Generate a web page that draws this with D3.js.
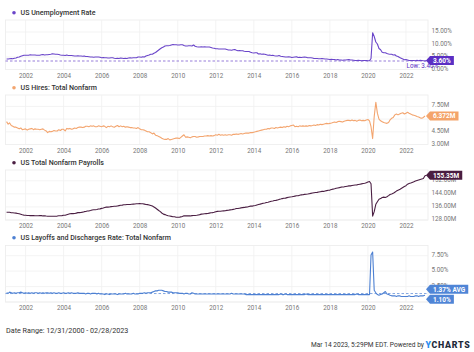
<!DOCTYPE html>
<html><head><meta charset="utf-8">
<script src="https://cdn.jsdelivr.net/npm/d3@7"></script>
<style>
body{margin:0;background:#fff}
svg{display:block;font-family:Roboto,"Noto Sans",sans-serif}
</style>
</head><body>
<svg id="c" width="474" height="352"></svg>
<script>
// ---------- DATA (monthly) ----------
const unemploymentStart = "2001-01-01";
const unemployment = [
4.2,4.2,4.3,4.4,4.3,4.5,4.6,4.9,5.0,5.3,5.5,5.7,
5.7,5.7,5.7,5.9,5.8,5.8,5.8,5.7,5.7,5.7,5.9,6.0,
5.8,5.9,5.9,6.0,6.1,6.3,6.2,6.1,6.1,6.0,5.8,5.7,
5.7,5.6,5.8,5.6,5.6,5.6,5.5,5.4,5.4,5.5,5.4,5.4,
5.3,5.4,5.2,5.2,5.1,5.0,5.0,4.9,5.0,5.0,5.0,4.9,
4.7,4.8,4.7,4.7,4.6,4.6,4.7,4.7,4.5,4.4,4.5,4.4,
4.6,4.5,4.4,4.5,4.4,4.6,4.7,4.6,4.7,4.7,4.7,5.0,
5.0,4.9,5.1,5.0,5.4,5.6,5.8,6.1,6.1,6.5,6.8,7.3,
7.8,8.3,8.7,9.0,9.4,9.5,9.5,9.6,9.8,10.0,9.9,9.9,
9.8,9.8,9.9,9.9,9.6,9.4,9.4,9.5,9.5,9.4,9.8,9.3,
9.1,9.0,9.0,9.1,9.0,9.1,9.0,9.0,9.0,8.8,8.6,8.5,
8.3,8.3,8.2,8.2,8.2,8.2,8.2,8.0,7.8,7.8,7.7,7.9,
8.0,7.7,7.5,7.6,7.5,7.5,7.3,7.2,7.2,7.2,6.9,6.7,
6.6,6.7,6.7,6.2,6.3,6.1,6.2,6.1,5.9,5.7,5.8,5.6,
5.7,5.5,5.4,5.4,5.6,5.3,5.2,5.1,5.0,5.0,5.1,5.0,
4.8,4.9,5.0,5.1,4.8,4.9,4.8,4.9,5.0,4.9,4.7,4.7,
4.7,4.6,4.4,4.4,4.4,4.3,4.3,4.4,4.3,4.2,4.2,4.1,
4.0,4.1,4.0,4.0,3.8,4.0,3.8,3.8,3.7,3.8,3.8,3.9,
4.0,3.8,3.8,3.7,3.6,3.6,3.7,3.6,3.5,3.6,3.6,3.6,
3.5,3.5,4.4,14.7,13.2,11.0,10.2,8.4,7.9,6.9,6.7,6.7,
6.4,6.2,6.1,6.1,5.8,5.9,5.4,5.2,4.8,4.5,4.2,3.9,
4.0,3.8,3.6,3.6,3.6,3.6,3.5,3.7,3.5,3.7,3.6,3.5,
3.4,3.6];
const unemploymentLow = 3.4;

const hiresStart = "2001-01-01";
const hires = [
5.70,5.40,5.55,5.25,5.15,5.05,5.05,4.95,4.85,4.95,4.75,4.80,
4.85,4.70,4.80,4.85,4.90,4.75,4.85,4.80,4.80,4.75,4.80,4.85,
4.70,4.60,4.40,4.55,4.50,4.55,4.65,4.60,4.60,4.75,4.65,4.80,
4.80,4.60,4.90,4.85,4.90,4.80,4.85,4.95,4.90,5.00,5.05,5.05,
5.00,5.05,5.15,5.15,5.10,5.20,5.15,5.20,5.10,5.10,5.20,5.15,
5.10,5.20,5.15,5.00,5.15,5.10,5.20,5.10,5.05,5.15,5.25,5.10,
5.20,5.10,5.15,5.05,5.10,5.05,5.00,5.00,4.95,4.95,4.90,5.00,
4.85,4.75,4.75,4.70,4.60,4.50,4.50,4.40,4.25,4.35,4.10,4.05,
3.95,3.85,3.75,3.65,3.60,3.60,3.70,3.55,3.60,3.65,3.70,3.75,
3.75,3.70,3.85,4.00,4.15,3.85,3.90,3.85,3.80,3.90,3.95,3.95,
3.85,3.90,3.95,3.95,3.95,4.00,4.00,4.05,4.00,4.05,4.00,4.05,
4.15,4.10,4.20,4.10,4.15,4.10,4.15,4.10,4.15,4.15,4.10,4.20,
4.20,4.25,4.20,4.25,4.30,4.25,4.30,4.35,4.35,4.35,4.40,4.40,
4.45,4.50,4.55,4.60,4.65,4.70,4.75,4.80,4.80,4.90,4.85,4.95,
4.95,4.90,5.00,4.95,5.00,5.05,5.00,5.10,5.05,5.15,5.10,5.20,
5.25,5.30,5.10,5.15,5.10,5.20,5.15,5.20,5.15,5.20,5.15,5.25,
5.20,5.25,5.30,5.25,5.35,5.30,5.40,5.35,5.40,5.45,5.50,5.45,
5.50,5.55,5.60,5.65,5.60,5.70,5.75,5.70,5.65,5.75,5.80,5.85,
5.85,5.80,5.90,5.80,5.85,5.75,5.85,5.90,5.80,5.85,5.80,5.90,
5.95,5.80,5.10,3.70,6.30,8.00,6.70,6.00,5.80,5.70,5.60,5.55,
5.50,5.60,5.90,6.10,6.20,6.50,6.60,6.50,6.60,6.70,6.75,6.60,
6.70,6.80,6.70,6.60,6.50,6.45,6.40,6.30,6.25,6.15,6.10,6.20,
6.372];

const payrollsStart = "2001-01-01";
const payrolls = [
132.7,132.7,132.7,132.4,132.4,132.3,132.2,132.0,131.8,131.5,131.2,131.0,
130.9,130.8,130.8,130.7,130.7,130.7,130.6,130.6,130.6,130.7,130.7,130.5,
130.6,130.4,130.3,130.3,130.3,130.3,130.3,130.3,130.4,130.6,130.6,130.7,
130.9,130.9,131.2,131.5,131.8,131.9,131.9,132.0,132.2,132.5,132.5,132.6,
132.8,133.1,133.2,133.5,133.6,133.8,134.1,134.3,134.3,134.4,134.7,134.8,
135.1,135.4,135.7,135.9,135.9,136.0,136.2,136.3,136.4,136.4,136.6,136.8,
137.0,137.1,137.3,137.3,137.5,137.5,137.5,137.6,137.7,137.8,137.9,137.9,
138.0,137.9,137.9,137.7,137.5,137.4,137.2,136.9,136.5,136.0,135.3,134.6,
133.8,133.1,132.3,131.6,131.3,130.9,130.6,130.4,130.2,130.0,130.0,129.7,
129.7,129.7,129.9,130.1,130.6,130.5,130.5,130.5,130.5,130.7,130.8,130.8,
130.9,131.1,131.3,131.6,131.7,131.8,131.9,132.0,132.2,132.4,132.5,132.7,
133.1,133.3,133.4,133.4,133.5,133.6,133.7,133.9,134.0,134.2,134.3,134.5,
134.7,135.0,135.0,135.2,135.4,135.6,135.7,135.9,136.0,136.3,136.5,136.5,
136.7,136.9,137.2,137.5,137.7,138.0,138.2,138.4,138.7,138.9,139.2,139.5,
139.6,139.9,140.0,140.3,140.6,140.8,141.1,141.3,141.4,141.7,141.9,142.1,
142.2,142.4,142.6,142.8,142.8,143.1,143.4,143.5,143.7,143.8,143.9,144.1,
144.3,144.5,144.7,144.8,144.9,145.1,145.3,145.5,145.5,145.8,146.0,146.2,
146.3,146.7,146.9,147.1,147.4,147.6,147.8,148.1,148.2,148.3,148.5,148.7,
148.9,148.9,149.1,149.3,149.4,149.5,149.7,149.9,150.1,150.3,150.5,150.8,
151.3,151.6,150.2,130.4,133.1,137.6,139.2,140.7,141.1,141.8,142.0,141.8,
142.2,142.9,143.6,143.9,144.3,145.0,145.7,146.2,146.6,147.3,147.9,148.5,
149.0,149.9,150.3,150.6,151.0,151.4,151.9,152.2,152.5,152.8,153.1,153.4,
155.07,155.35];

const layoffsStart = "2001-01-01";
const layoffs = [
1.5,1.4,1.6,1.5,1.4,1.5,1.4,1.5,1.5,1.6,1.5,1.4,
1.5,1.4,1.5,1.4,1.5,1.4,1.5,1.5,1.4,1.5,1.4,1.5,
1.4,1.5,1.5,1.4,1.5,1.4,1.5,1.4,1.4,1.5,1.4,1.4,
1.5,1.4,1.4,1.5,1.4,1.5,1.4,1.4,1.4,1.5,1.4,1.4,
1.4,1.4,1.3,1.4,1.4,1.3,1.4,1.4,1.4,1.3,1.4,1.3,
1.3,1.3,1.2,1.3,1.3,1.2,1.3,1.3,1.3,1.3,1.2,1.3,
1.3,1.3,1.3,1.4,1.3,1.3,1.3,1.3,1.4,1.3,1.3,1.3,
1.4,1.4,1.4,1.5,1.4,1.5,1.5,1.5,1.6,1.7,1.8,1.8,
1.9,1.9,1.9,1.8,1.7,1.7,1.6,1.6,1.6,1.5,1.5,1.5,
1.5,1.4,1.4,1.4,1.3,1.4,1.4,1.3,1.3,1.5,1.4,1.3,
1.3,1.3,1.3,1.3,1.3,1.3,1.3,1.3,1.3,1.3,1.3,1.3,
1.3,1.3,1.3,1.3,1.3,1.3,1.3,1.3,1.3,1.3,1.4,1.3,
1.3,1.3,1.3,1.3,1.3,1.3,1.3,1.2,1.2,1.2,1.2,1.2,
1.2,1.2,1.2,1.2,1.2,1.2,1.2,1.2,1.2,1.2,1.2,1.2,
1.2,1.2,1.2,1.2,1.2,1.3,1.2,1.2,1.3,1.2,1.2,1.2,
1.2,1.2,1.2,1.2,1.2,1.2,1.2,1.2,1.2,1.3,1.2,1.2,
1.2,1.2,1.2,1.2,1.2,1.2,1.2,1.2,1.2,1.2,1.2,1.2,
1.2,1.2,1.2,1.2,1.2,1.2,1.2,1.2,1.2,1.2,1.2,1.2,
1.2,1.2,1.2,1.2,1.2,1.3,1.2,1.2,1.2,1.2,1.2,1.2,
1.2,1.2,7.6,8.1,1.9,1.5,1.2,1.1,1.2,1.3,1.5,1.7,
1.3,1.2,1.1,1.0,1.0,1.0,0.9,1.0,1.0,0.9,0.9,0.9,
0.9,0.9,1.0,0.9,0.9,0.9,1.0,1.0,0.9,1.0,1.0,1.0,
1.10];
const layoffsAvg = 1.37;

const xTickYears = [2002,2004,2006,2008,2010,2012,2014,2016,2018,2020,2022];
const unemploymentTicks = [0,5,10,15];
const hiresTicks = [3,4.5,6,7.5];
const payrollsTicks = [128,136,144,152];
const layoffsTicks = [0,2.5,5,7.5];
const dateRange = ["2000-12-31","2023-02-28"];

// ---------- CHART ----------
const svg = d3.select("#c");
const parse = d3.timeParse("%Y-%m-%d");
const x = d3.scaleTime().domain(dateRange.map(parse)).range([6.5, 428]);
const PX0 = 5.5, PX1 = 428;

function series(vals, start){
  const s = parse(start);
  return vals.map((v,i)=>({date:d3.timeMonth.offset(s,i), v}));
}

function callout(g, cx, cy, text, bg){
  const grp = g.append("g");
  const t = grp.append("text").attr("x", cx+3).attr("y", cy).attr("dy","0.35em")
    .attr("fill","#fff").attr("font-size",6.5).attr("font-weight",700).text(text);
  const w = t.node().getComputedTextLength() + 6;
  grp.insert("path","text")
    .attr("d", `M${cx-4},${cy} L${cx},${cy-4.5} L${cx+w},${cy-4.5} L${cx+w},${cy+4.5} L${cx},${cy+4.5} Z`)
    .attr("fill", bg);
  return grp;
}

const panels = [
  {title:"US Unemployment Rate", color:"#6a45c9", labelBg:"#5b2fc4",
   data:series(unemployment, unemploymentStart), titleY:12.7, top:20, bottom:69.5,
   domain:[0,19.8], ticks:unemploymentTicks, fmt:d=>d3.format(".2f")(d)+"%",
   last:d3.format(".2f")(unemployment[unemployment.length-1])+"%",
   ref:unemploymentLow},
  {title:"US Hires: Total Nonfarm", color:"#f3a56f", labelBg:"#f4a46a",
   data:series(hires, hiresStart), titleY:87.7, top:95, bottom:144.5,
   domain:[3,8.85], ticks:hiresTicks, fmt:d=>d3.format(".2f")(d)+"M",
   last:d3.format(".3f")(hires[hires.length-1])+"M"},
  {title:"US Total Nonfarm Payrolls", color:"#4b1f43", labelBg:"#4a1d41",
   data:series(payrolls, payrollsStart), titleY:162.7, top:170, bottom:220,
   domain:[128,158.6], ticks:payrollsTicks, fmt:d=>d3.format(".2f")(d)+"M",
   last:d3.format(".2f")(payrolls[payrolls.length-1])+"M"},
  {title:"US Layoffs and Discharges Rate: Total Nonfarm", color:"#4d80d2", labelBg:"#4f85d6",
   data:series(layoffs, layoffsStart), titleY:237.7, top:245.5, bottom:302,
   domain:[0,9.15], ticks:layoffsTicks, fmt:d=>d3.format(".2f")(d)+"%",
   last:d3.format(".2f")(layoffs[layoffs.length-1])+"%", avg:layoffsAvg}
];

panels.forEach(p=>{
  const g = svg.append("g");
  const y = d3.scaleLinear().domain(p.domain).range([p.bottom, p.top]);

  // title with dot
  g.append("circle").attr("cx",14).attr("cy",p.titleY).attr("r",1.8).attr("fill",p.color);
  g.append("text").attr("x",20.5).attr("y",p.titleY).attr("dy","0.35em")
    .attr("font-size",7.1).attr("font-weight",500).attr("fill","#333").text(p.title);

  // plot frame
  g.append("rect").attr("x",PX0).attr("y",p.top).attr("width",PX1-PX0).attr("height",p.bottom-p.top)
    .attr("fill","#fff").attr("stroke","#ececec").attr("stroke-width",0.8);

  // vertical grid
  const yrs = xTickYears.map(yy=>new Date(yy,0,1));
  g.selectAll(".vg").data(yrs).enter().append("line")
    .attr("x1",d=>x(d)).attr("x2",d=>x(d)).attr("y1",p.top).attr("y2",p.bottom)
    .attr("stroke","#f0f0f0").attr("stroke-width",0.8);
  // horizontal grid
  g.selectAll(".hg").data(p.ticks).enter().append("line")
    .attr("x1",PX0).attr("x2",PX1).attr("y1",d=>y(d)).attr("y2",d=>y(d))
    .attr("stroke","#f0f0f0").attr("stroke-width",0.8);

  // x axis labels
  const xa = d3.axisBottom(x).tickValues(yrs).tickFormat(d3.timeFormat("%Y")).tickSize(0).tickPadding(0);
  const xg = g.append("g").attr("transform",`translate(0,${p.bottom+4})`).call(xa);
  xg.select(".domain").remove();
  xg.selectAll("text").attr("font-size",6.3).attr("fill","#777").attr("font-family","Roboto");

  // y axis labels
  const ya = d3.axisRight(y).tickValues(p.ticks).tickFormat(p.fmt).tickSize(0).tickPadding(0);
  const yg = g.append("g").attr("transform",`translate(${PX1+3.5},-1.5)`).call(ya);
  yg.select(".domain").remove();
  yg.selectAll("text").attr("font-size",6.3).attr("fill","#777").attr("font-family","Roboto");

  // reference lines
  if(p.ref!==undefined){
    g.append("line").attr("x1",PX0).attr("x2",PX1).attr("y1",y(p.ref)).attr("y2",y(p.ref))
      .attr("stroke",p.color).attr("stroke-width",0.7).attr("stroke-dasharray","2.5,2");
  }
  if(p.avg!==undefined){
    g.append("line").attr("x1",PX0).attr("x2",PX1).attr("y1",y(p.avg)).attr("y2",y(p.avg))
      .attr("stroke",p.color).attr("stroke-width",0.7).attr("stroke-dasharray","2.5,2");
  }

  // line
  const line = d3.line().x(d=>x(d.date)).y(d=>y(d.v));
  g.append("path").datum(p.data).attr("d",line).attr("fill","none")
    .attr("stroke",p.color).attr("stroke-width",1.1).attr("stroke-linejoin","round");

  if(p.ref!==undefined){
    g.append("text").attr("x",406.5).attr("y",y(p.ref)+5).attr("dy","0.35em")
      .attr("font-size",6.3).attr("fill",p.labelBg).text("Low: "+d3.format(".2f")(p.ref)+"%");
  }

  // callouts
  const lastY = y(p.data[p.data.length-1].v);
  if(p.avg!==undefined){
    let a = y(p.avg), b = lastY;
    if(Math.abs(a-b) < 10){ const m=(a+b)/2; a=m-5; b=m+5; }
    callout(g, PX1+2, a, d3.format(".2f")(p.avg)+"% AVG", p.labelBg);
    callout(g, PX1+2, b, p.last, p.labelBg);
  } else {
    callout(g, PX1+2, lastY, p.last, p.labelBg);
  }
});

// footer
svg.append("text").attr("x",6).attr("y",330).attr("dy","0.35em").attr("font-size",7.2)
  .attr("fill","#333").text("Date Range: 12/31/2000 - 02/28/2023");
svg.append("text").attr("x",424).attr("y",345).attr("dy","0.35em")
  .attr("text-anchor","end").attr("font-size",6.6).attr("fill","#333")
  .text("Mar 14 2023, 5:29PM EDT. Powered by");
const logo = svg.append("text").attr("x",425.5).attr("y",345).attr("dy","0.35em")
  .attr("font-size",8.8).attr("font-weight",900).attr("letter-spacing",0.7);
logo.append("tspan").attr("fill","#2a8ef0").text("Y");
logo.append("tspan").attr("fill","#1e2a3a").text("CHARTS");
</script>
</body></html>
